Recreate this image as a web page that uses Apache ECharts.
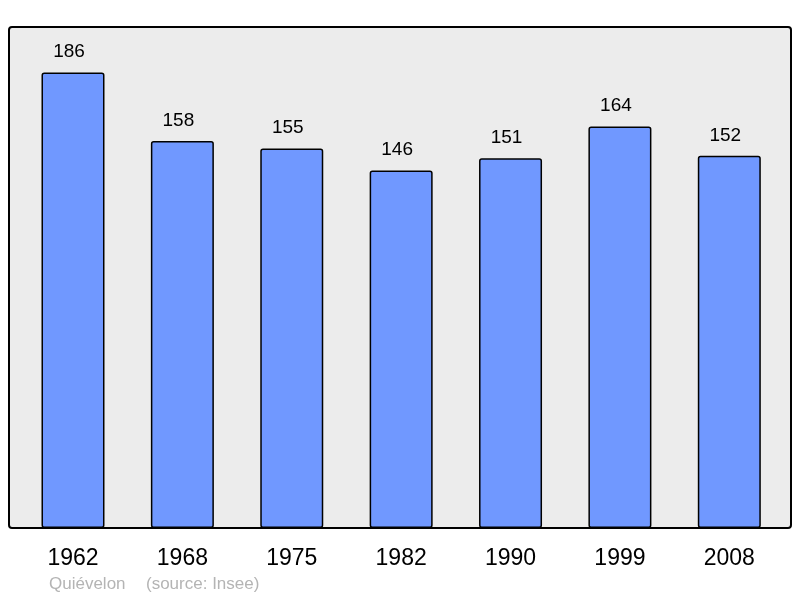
<!DOCTYPE html>
<html>
<head>
<meta charset="utf-8">
<script src="https://cdn.jsdelivr.net/npm/echarts@6/dist/echarts.min.js"></script>
<style>html,body{margin:0;padding:0;background:#fff}#c{width:800px;height:598px}</style>
</head>
<body>
<div id="c"></div>
<script>
const years = ['1962','1968','1975','1982','1990','1999','2008'];
const population = [186, 158, 155, 146, 151, 164, 152];
const placeName = 'Quiévelon';
const sourceText = '(source: Insee)';

const chart = echarts.init(document.getElementById('c'), null, {renderer: 'canvas'});
chart.setOption({
  animation: false,
  backgroundColor: '#ffffff',
  textStyle: {fontFamily: 'Liberation Sans, Arial, sans-serif'},
  graphic: [
    {type: 'rect', z: -10, shape: {x: 9, y: 27, width: 782, height: 501, r: 3},
     style: {fill: '#ececec', stroke: '#000', lineWidth: 2}},
    {type: 'text', left: 49, top: 576, style: {text: placeName, fill: '#b4b4b4', font: '17px Liberation Sans, Arial, sans-serif'}},
    {type: 'text', left: 146, top: 576, style: {text: sourceText, fill: '#b4b4b4', font: '17px Liberation Sans, Arial, sans-serif'}}
  ],
  grid: {left: 18.3, right: 16, top: 27, bottom: 70},
  xAxis: {
    type: 'category', data: years,
    axisLine: {show: false}, axisTick: {show: false},
    axisLabel: {fontSize: 23, color: '#000', margin: 19, fontFamily: 'Liberation Sans, Arial, sans-serif'}
  },
  yAxis: {type: 'value', min: 0, max: 204.6, show: false, splitLine: {show: false}},
  series: [{
    type: 'bar', data: population, barWidth: 63,
    itemStyle: {color: '#7098ff', borderColor: '#000', borderWidth: 1.5, borderRadius: 2},
    label: {show: true, position: 'top', distance: 11, offset: [-4, 0], fontSize: 19, color: '#000', fontFamily: 'Liberation Sans, Arial, sans-serif'}
  }]
});
</script>
</body>
</html>
